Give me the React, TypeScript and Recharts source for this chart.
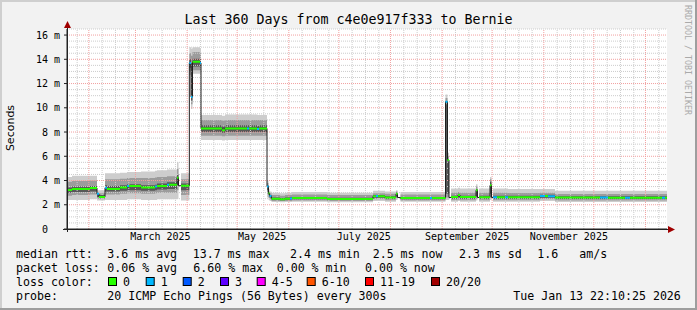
import React from 'react';
import { ComposedChart, Area, Line, XAxis, YAxis, ReferenceLine, CartesianGrid } from 'recharts';

// ---- time axis (days since start of the 360-day window, Jan 18 2025 22:10) ----
const monthStartDays = [13.08, 41.08, 72.08, 102.08, 133.08, 163.08, 194.08, 225.08, 255.08, 286.08, 316.08, 347.08];
const minorGridDays = [6.08, 21.08, 29.08, 37.08, 49.08, 57.08, 65.08, 80.08, 88.08, 96.08, 110.08, 118.08, 126.08,
  141.08, 149.08, 157.08, 171.08, 179.08, 187.08, 202.08, 210.08, 218.08, 233.08, 241.08, 249.08, 263.08, 271.08,
  279.08, 294.08, 302.08, 310.08, 324.08, 332.08, 340.08, 355.08];
const xLabelDays = [56.08, 117.08, 178.08, 240.08, 301.08];
const xLabels = ['March 2025', 'May 2025', 'July 2025', 'September 2025', 'November 2025'];

// ---- y axis ----
const yTicksMs = [0, 2, 4, 6, 8, 10, 12, 14, 16];
const yMinorMs = [0.5, 1, 1.5, 2.5, 3, 3.5, 4.5, 5, 5.5, 6.5, 7, 7.5, 8.5, 9, 9.5, 10.5, 11, 11.5, 12.5, 13, 13.5,
  14.5, 15, 15.5, 16.5];

// ---- measurement segments (boundaries in days) ----
const segmentBoundsDays = [0, 3, 13.8, 18, 19.2, 22.8, 24, 31.8, 36, 37.2, 44.4, 52.8, 54, 60, 61.2, 66, 66.9, 68.4,
  73.4, 74.4, 75.3, 79.8, 80.4, 93, 94.8, 108, 109.2, 114, 115.2, 120, 120.9, 121.5, 122.7, 127.8, 130.8, 133.8, 135,
  156, 183.6, 185.4, 186.6, 190.8, 197.4, 198.3, 200.1, 217.8, 219, 227.1, 228.3, 229.2, 230.4, 234.6, 235.8, 245.4,
  246.3, 247.2, 253.8, 254.7, 255.6, 258, 262.8, 264.6, 283.8, 286.8, 288.6, 292.8, 319.8, 324.6, 334.8, 337.8, 357,
  358.8, 360];
const medianMs = [3.22, 3.3, 3.38, 2.9, 2.65, 3.4, 3.3, 3.42, 3.55, 3.55, 3.42, 3.5, 3.55, 3.65, 3.65, 4.23, 3.57, 3.57,
  13.7, 10.9, 13.8, 13.7, 8.3, 8.15, 8.3, 8.3, 8.3, 8.25, 8.3, 3.5, 2.95, 2.72, 2.5, 2.45, 2.5, 2.52, 2.55,
  2.48, 2.7, 2.72, 2.7, 2.6, 2.9, 2.6, 2.55, 2.55, 2.55, 10.5, 5.7, 2.6, 2.65, 2.8, 2.65, 3.2,
  2.6, 2.62, 3.6, 2.6, 2.62, 2.62, 2.62, 2.62, 2.72, 2.72, 2.7, 2.6, 2.6, 2.58, 2.58, 2.57,
  2.57, 2.57];
const lossPings = [0, 0, 0, 1, 0, 1, 0, 0, 1, 0, 0, 1, 0, 1, 0, 0, 0, 0,
  1, 1, 0, 1, 0, 0, 0, 1, 0, 1, 0, 1, 0, 1, 0, 0, 0, 1, 0,
  0, 0, 1, 0, 0, 0, 0, 0, 1, 0, 1, 0, 0, 0, 0, 0, 0,
  0, 0, 0, 0, 1, 0, 1, 0, 1, 0, 1, 0, 1, 0, 1, 0,
  1, 0];
const smokeMinMs = [2.4, 2.4, 2.45, 2.35, 2.35, 2.4, 2.4, 2.4, 2.45, 2.45, 2.4, 2.4, 2.45, 2.45, 2.45, 2.5, null, 2.35,
  12.7, 9.9, 12.8, 12.8, 7.35, 7.3, 7.35, 7.35, 7.35, 7.35, 7.35, 2.6, 2.4, 2.3, 2.22, 2.2, 2.22, 2.22, 2.25,
  2.2, 2.3, 2.3, 2.3, 2.25, 2.4, null, 2.25, 2.25, 2.25, 2.4, 2.4, null, 2.25, 2.3, 2.25, 2.35,
  null, 2.25, 2.4, null, 2.25, 2.25, 2.25, 2.25, 2.3, 2.3, 2.3, 2.22, 2.22, 2.22, 2.22, 2.22,
  2.22, 2.22];
const smokeMaxMs = [4.3, 4.4, 4.4, 3.2, 3.2, 4.6, 4.6, 4.65, 4.7, 4.7, 4.75, 4.8, 4.85, 4.9, 4.9, 5.5, null, 4.6,
  15.0, 14.9, 15.0, 14.9, 9.4, 9.35, 9.45, 9.45, 9.45, 9.4, 9.4, 4.0, 3.3, 3.1, 3.0, 2.95, 3.0, 3.0, 3.05,
  3.0, 3.15, 3.15, 3.15, 3.1, 3.2, null, 3.05, 3.05, 3.05, 11.1, 6.3, null, 3.35, 3.4, 3.35, 3.7,
  null, 3.35, 4.3, null, 3.35, 3.35, 3.35, 3.3, 3.3, 3.3, 3.3, 3.15, 3.15, 3.15, 3.15, 3.15,
  3.15, 3.15];
const smokeLowMs = [2.75, 2.8, 2.85, 2.5, 2.45, 2.85, 2.85, 2.9, 2.95, 2.95, 2.9, 2.95, 3.0, 3.0, 3.0, 3.2, null, 2.8,
  13.0, 10.3, 13.1, 13.1, 7.7, 7.65, 7.7, 7.7, 7.7, 7.7, 7.7, 2.9, 2.6, 2.45, 2.32, 2.3, 2.32, 2.32, 2.35,
  2.32, 2.45, 2.45, 2.45, 2.38, 2.6, null, 2.36, 2.36, 2.36, 2.6, 2.6, null, 2.38, 2.42, 2.38, 2.5,
  null, 2.38, 2.6, null, 2.38, 2.38, 2.38, 2.38, 2.45, 2.45, 2.45, 2.35, 2.35, 2.35, 2.35, 2.35,
  2.35, 2.35];
const smokeHighMs = [3.9, 3.95, 4.0, 3.0, 2.95, 4.1, 4.1, 4.15, 4.2, 4.2, 4.2, 4.25, 4.3, 4.35, 4.35, 5.0, null, 4.1,
  14.5, 14.3, 14.6, 14.5, 9.0, 8.95, 9.0, 9.0, 9.0, 9.0, 9.0, 3.8, 3.1, 2.95, 2.8, 2.75, 2.8, 2.8, 2.85,
  2.8, 2.95, 2.95, 2.95, 2.9, 3.1, null, 2.85, 2.85, 2.85, 10.8, 6.0, null, 3.0, 3.05, 3.0, 3.5,
  null, 3.0, 4.1, null, 3.0, 3.0, 3.0, 2.98, 3.0, 3.0, 3.0, 2.88, 2.88, 2.88, 2.88, 2.88,
  2.88, 2.88];
const coreLowMs = [3.0, 3.05, 3.1, 2.65, 2.55, 3.1, 3.1, 3.15, 3.2, 3.2, 3.15, 3.2, 3.25, 3.3, 3.3, 3.6, null, 3.2,
  13.3, 10.6, 13.4, 13.4, 8.0, 7.95, 8.0, 8.0, 8.0, 8.0, 8.0, 3.2, 2.8, 2.6, 2.42, 2.38, 2.42, 2.42, 2.45,
  2.4, 2.58, 2.58, 2.58, 2.5, 2.75, null, 2.45, 2.45, 2.45, 2.9, 2.9, null, 2.5, 2.6, 2.5, 2.7,
  null, 2.5, 2.9, null, 2.5, 2.5, 2.5, 2.5, 2.58, 2.58, 2.58, 2.48, 2.48, 2.48, 2.48, 2.48,
  2.48, 2.48];
const coreHighMs = [3.42, 3.5, 3.55, 2.95, 2.8, 3.6, 3.55, 3.6, 3.7, 3.7, 3.6, 3.65, 3.75, 3.85, 3.85, 4.5, null, 3.75,
  14.0, 13.6, 14.05, 14.0, 8.55, 8.45, 8.55, 8.55, 8.55, 8.5, 8.55, 3.6, 3.0, 2.8, 2.6, 2.55, 2.6, 2.62, 2.65,
  2.58, 2.8, 2.8, 2.8, 2.7, 3.0, null, 2.65, 2.65, 2.65, 10.3, 5.5, null, 2.75, 2.9, 2.75, 3.3,
  null, 2.75, 3.9, null, 2.75, 2.75, 2.75, 2.75, 2.82, 2.82, 2.82, 2.7, 2.7, 2.7, 2.7, 2.7,
  2.7, 2.7];

// ---- legend text ----
const lossColors = ['#26ff00', '#00b8ff', '#0059ff', '#5e00ff', '#ff00ff', '#ff5500', '#ff0000', '#a10000'];
const lossLabels = ['0', '1', '2', '3', '4-5', '6-10', '11-19', '20/20'];
const lossBoxX = [108, 145.7, 182.7, 220, 256.7, 306.7, 365, 431];
const rttItems: [number, string][] = [[16, 'median rtt:'], [107.3, '3.6 ms avg'], [192.7, '13.7 ms max'],
  [290, '2.4 ms min'], [372.7, '2.5 ms now'], [459, '2.3 ms sd'], [537.3, '1.6'], [579.3, 'am/s']];
const lossItems: [number, string][] = [[16, 'packet loss:'], [107.3, '0.06 % avg'], [193.3, '6.60 % max'],
  [276.7, '0.00 % min'], [365, '0.00 % now']];
const probeItems: [number, string][] = [[16, 'probe:'], [107.3, '20 ICMP Echo Pings (56 Bytes) every 300s'],
  [513.3, 'Tue Jan 13 22:10:25 2026']];
const titleText = 'Last 360 Days from c4e0e917f333 to Bernie';

type Row = { day: number; median: number; green: number | null; blue: number | null;
  outer: number[] | null; mid: number[] | null; core: number[] | null };

// Each segment becomes a flat step; the loss-coloured median only draws the flat parts,
// the dark median line underneath draws the vertical transitions.
const rows: Row[] = [];
for (let i = 0; i < medianMs.length; i++) {
  const hasSmoke = smokeMinMs[i] != null;
  const base = {
    median: medianMs[i],
    green: hasSmoke && lossPings[i] === 0 ? medianMs[i] : null,
    blue: hasSmoke && lossPings[i] === 1 ? medianMs[i] : null,
    outer: hasSmoke ? [smokeMinMs[i] as number, smokeMaxMs[i] as number] : null,
    mid: hasSmoke ? [smokeLowMs[i] as number, smokeHighMs[i] as number] : null,
    core: hasSmoke ? [coreLowMs[i] as number, coreHighMs[i] as number] : null,
  };
  rows.push({ day: segmentBoundsDays[i], ...base });
  rows.push({ day: segmentBoundsDays[i + 1], ...base });
  rows.push({ day: segmentBoundsDays[i + 1], ...base, green: null, blue: null });
}

const MONO = '"DejaVu Sans Mono", monospace';

export default function App() {
  return (
    <div style={{ position: 'absolute', left: 0, top: 0, width: 697, height: 310, background: '#f2f2f2', overflow: 'hidden' }}>
      <ComposedChart width={697} height={310} data={rows}
        margin={{ top: 29, right: 30, bottom: 0, left: 7 }}>
        <CartesianGrid horizontal={false} vertical={false} fill="#ffffff" />
        {yMinorMs.map((v) => (
          <ReferenceLine key={'hm' + v} y={v} stroke="#cccccc" strokeDasharray="1 1" />
        ))}
        {minorGridDays.map((d) => (
          <ReferenceLine key={'vm' + d} x={d} stroke="#cccccc" strokeDasharray="1 1" />
        ))}
        {yTicksMs.filter((v) => v > 0).map((v) => (
          <ReferenceLine key={'hM' + v} y={v} stroke="#f2a0a0" strokeDasharray="1 1" />
        ))}
        {monthStartDays.map((d) => (
          <ReferenceLine key={'vM' + d} x={d} stroke="#f2a0a0" strokeDasharray="1 1" />
        ))}
        <XAxis type="number" dataKey="day" domain={[0, 360]} ticks={xLabelDays} interval={0}
          tickFormatter={(v: number) => xLabels[xLabelDays.indexOf(v)] ?? ''}
          height={81} tickLine={false} tickSize={0} tickMargin={4}
          axisLine={{ stroke: '#222222' }}
          tick={{ fill: '#000000', fontFamily: MONO, fontSize: 10 }} allowDataOverflow />
        <YAxis type="number" domain={[0, 16.5]} ticks={yTicksMs} interval={0} width={60}
          tickFormatter={(v: number) => (v === 0 ? '0\u00a0\u00a0' : `${v} m`)}
          tickSize={3} tickMargin={4} tickLine={{ stroke: '#222222' }}
          axisLine={{ stroke: '#222222' }}
          tick={{ fill: '#000000', fontFamily: MONO, fontSize: 10 }} allowDataOverflow />
        <Area dataKey="outer" type="linear" stroke="none" fill="#cdcdcd" fillOpacity={1}
          isAnimationActive={false} dot={false} activeDot={false} connectNulls={false} />
        <Area dataKey="mid" type="linear" stroke="none" fill="#9c9c9c" fillOpacity={1}
          isAnimationActive={false} dot={false} activeDot={false} connectNulls={false} />
        <Area dataKey="core" type="linear" stroke="none" fill="#575757" fillOpacity={1}
          isAnimationActive={false} dot={false} activeDot={false} connectNulls={false} />
        <Line dataKey="median" type="linear" stroke="#202020" strokeWidth={1}
          dot={false} activeDot={false} isAnimationActive={false} />
        <Line dataKey="green" type="linear" stroke={lossColors[0]} strokeWidth={2}
          dot={false} activeDot={false} isAnimationActive={false} connectNulls={false} />
        <Line dataKey="blue" type="linear" stroke={lossColors[1]} strokeWidth={2}
          dot={false} activeDot={false} isAnimationActive={false} connectNulls={false} />
      </ComposedChart>
      <svg width={697} height={310} style={{ position: 'absolute', left: 0, top: 0, pointerEvents: 'none' }}>
        <rect x={0} y={0} width={697} height={2} fill="#cfcfcf" />
        <rect x={0} y={0} width={2} height={310} fill="#cfcfcf" />
        <rect x={0} y={308} width={697} height={2} fill="#9e9e9e" />
        <rect x={695} y={0} width={2} height={310} fill="#9e9e9e" />
        <line x1={63} y1={229.5} x2={669} y2={229.5} stroke="#222222" />
        <line x1={67.5} y1={232} x2={67.5} y2={25} stroke="#222222" />
        <polygon points="668,226 675,229.5 668,233" fill="#a00000" />
        <polygon points="64,28 67.5,21 71,28" fill="#a00000" />
        <text x={348.5} y={24} textAnchor="middle" fontFamily={MONO} fontSize={13.3} fill="#000">{titleText}</text>
        <text transform="translate(14,128) rotate(-90)" textAnchor="middle" fontFamily='"DejaVu Sans", sans-serif'
          fontSize={11} fill="#000">Seconds</text>
        <text transform="translate(685,5) rotate(90)" fontFamily={MONO} fontSize={8.3} fill="#aaaaaa">RRDTOOL / TOBI OETIKER</text>
        {rttItems.map(([x, t]) => (
          <text key={'r' + x} x={x} y={258} fontFamily={MONO} fontSize={11.6} fill="#000">{t}</text>
        ))}
        {lossItems.map(([x, t]) => (
          <text key={'l' + x} x={x} y={272} fontFamily={MONO} fontSize={11.6} fill="#000">{t}</text>
        ))}
        <text x={16} y={286} fontFamily={MONO} fontSize={11.6} fill="#000">loss color:</text>
        {lossBoxX.map((x, i) => (
          <g key={'b' + i}>
            <rect x={x + 0.5} y={277.5} width={8} height={8} fill={lossColors[i]} stroke="#000" strokeWidth={1} />
            <text x={x + 15} y={286} fontFamily={MONO} fontSize={11.6} fill="#000">{lossLabels[i]}</text>
          </g>
        ))}
        {probeItems.map(([x, t]) => (
          <text key={'p' + x} x={x} y={300} fontFamily={MONO} fontSize={11.6} fill="#000">{t}</text>
        ))}
      </svg>
    </div>
  );
}
